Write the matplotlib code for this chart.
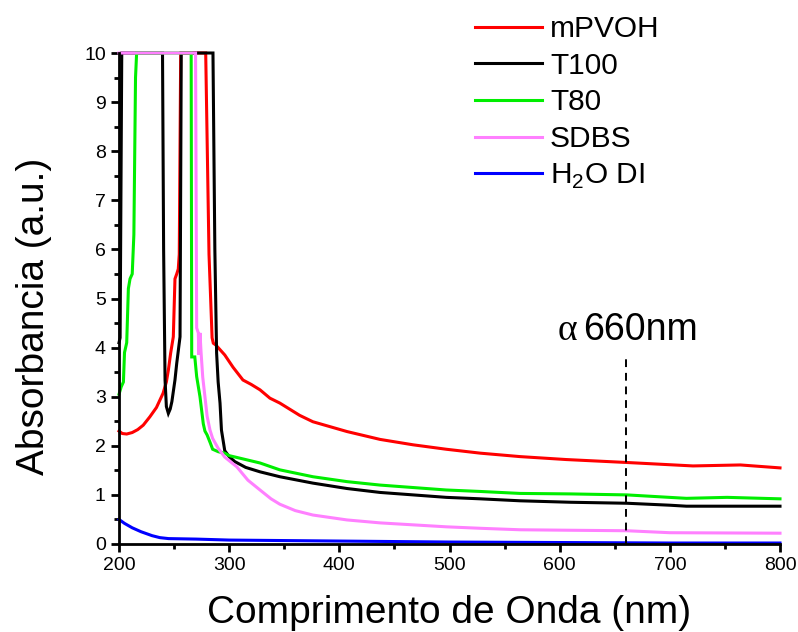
import numpy as np
from matplotlib import pyplot as plt

plt.rcParams['font.family'] = ['Liberation Sans', 'DejaVu Sans']
plt.rcParams['mathtext.fontset'] = 'custom'
plt.rcParams['mathtext.rm'] = 'Liberation Sans'

# mPVOH
wl_pvoh = [200, 203, 207, 212, 217, 222, 228, 234, 240, 243, 244.8, 246.9, 249.3, 250.8,
           252.4, 253.8, 254.7, 256, 278.7, 281.7, 284.5, 285.6, 288, 290, 292, 296, 303.5,
           312.5, 320, 328, 337, 346, 364, 376, 407, 437, 467, 497, 528, 564, 606, 661,
           721, 764, 800]
abs_pvoh = [2.30, 2.25, 2.24, 2.27, 2.33, 2.42, 2.59, 2.78, 3.07, 3.30, 3.54, 3.89, 4.22, 5.40,
            5.50, 5.60, 5.90, 10, 10, 5.90, 4.20, 4.09, 4.05, 4.00, 3.95, 3.85, 3.60,
            3.34, 3.25, 3.14, 2.97, 2.87, 2.62, 2.49, 2.29, 2.13, 2.02, 1.93, 1.85, 1.78, 1.72, 1.66,
            1.59, 1.61, 1.55]

# T100
wl_t100 = [200, 201, 202.5, 239.5, 240.5, 241.8, 243, 244.8, 246.5, 248, 250.8, 252.4, 255.4,
           256.5, 285.3, 287, 288.6, 290, 291.7, 293, 296, 300, 305, 315, 328, 346, 376, 407,
           437, 467, 497, 528, 564, 610, 661, 700, 715, 800]
abs_t100 = [4.10, 4.20, 10, 10, 6.00, 3.34, 2.80, 2.66, 2.75, 2.90, 3.34, 3.68, 4.22,
            10, 10, 6.00, 3.89, 3.30, 2.87, 2.32, 1.90, 1.78, 1.68, 1.56, 1.47, 1.37, 1.24, 1.13,
            1.05, 1.00, 0.95, 0.92, 0.88, 0.85, 0.83, 0.79, 0.77, 0.77]

# T80
wl_t80 = [200, 202, 204, 205, 207, 208.5, 210, 212, 213.5, 215, 216, 265.5, 266, 268.8, 270.5,
          273.5, 276.5, 278, 280, 283, 285, 290, 296, 300, 328, 346, 376, 407, 437, 467, 497,
          528, 564, 610, 661, 715, 752, 800]
abs_t80 = [3.05, 3.20, 3.30, 3.90, 4.10, 5.20, 5.40, 5.50, 6.30, 9.50, 10, 10, 3.81, 3.81, 3.41,
           3.00, 2.45, 2.30, 2.22, 2.05, 1.93, 1.88, 1.85, 1.80, 1.65, 1.51, 1.37, 1.27, 1.20, 1.15, 1.10,
           1.07, 1.03, 1.02, 1.00, 0.93, 0.95, 0.92]

# SDBS
wl_sdbs = [200, 269.5, 270.5, 272, 272.5, 273.5, 274.5, 276, 278, 280, 282.6, 285, 290, 296,
           307, 317, 328, 338, 346, 360, 376, 407, 437, 467, 497, 528, 564, 610, 661, 700, 800]
abs_sdbs = [10, 10, 4.40, 4.30, 3.85, 4.30, 3.90, 3.40, 3.00, 2.60, 2.32, 2.15, 1.95, 1.77,
            1.57, 1.30, 1.10, 0.92, 0.81, 0.68, 0.59, 0.49, 0.43, 0.39, 0.35, 0.32, 0.29, 0.28, 0.27, 0.23, 0.22]

# H2O DI
wl_h2o = [200, 205, 212, 220, 230, 237, 245, 270, 300, 350, 400, 450, 500, 600, 700, 800]
abs_h2o = [0.50, 0.42, 0.33, 0.25, 0.17, 0.13, 0.11, 0.10, 0.08, 0.07, 0.06, 0.05, 0.04, 0.03, 0.02, 0.02]

series = [
    (wl_pvoh, abs_pvoh, '#FF0000', 'mPVOH'),
    (wl_t100, abs_t100, '#000000', 'T100'),
    (wl_t80, abs_t80, '#00EE00', 'T80'),
    (wl_sdbs, abs_sdbs, '#FF80FF', 'SDBS'),
    (wl_h2o, abs_h2o, '#0000FF', 'H$_2$O DI'),
]

fig = plt.figure(figsize=(7.98, 6.32), dpi=100)
ax = fig.add_axes([119/798, 1 - 544/632, 661/798, 491/632])

for wl, a, col, lab in series:
    ax.plot(wl, a, color=col, lw=2.2, label=lab, clip_on=False, solid_joinstyle='miter')

ax.vlines(660, 0, 3.85, colors='black', linestyles=(0, (4, 3)), lw=1.4)
ax.text(615.7, 4.15, '\u03b1', family='Liberation Serif', fontsize=27, ha='right', va='baseline')
ax.text(621.2, 4.15, '660nm', fontsize=27, ha='left', va='baseline')

ax.set_xlim(200, 800)
ax.set_ylim(0, 10)
ax.set_xticks(np.arange(200, 801, 100))
ax.set_xticks(np.arange(250, 800, 100), minor=True)
ax.set_yticks(np.arange(0, 11, 1))
ax.set_yticks(np.arange(0.5, 10, 1), minor=True)
ax.tick_params(which='major', direction='out', length=6, width=2, labelsize=14)
ax.tick_params(which='minor', direction='out', length=3.5, width=2)
for s in ['top', 'right']:
    ax.spines[s].set_visible(False)
for s in ['left', 'bottom']:
    ax.spines[s].set_linewidth(2)

ax.set_xlabel('Comprimento de Onda (nm)', fontsize=28, labelpad=15)
ax.set_ylabel('Absorbancia (a.u.)', fontsize=28)
ax.yaxis.set_label_coords(-0.101, 0.464)

fig.legend(loc='upper left', bbox_to_anchor=(475/798, 1 - 15/632), frameon=False,
           fontsize=21.5, handlelength=2.24, handletextpad=0.27, labelspacing=0.29,
           borderpad=0, borderaxespad=0)

fig.savefig('out.png', dpi=100)
